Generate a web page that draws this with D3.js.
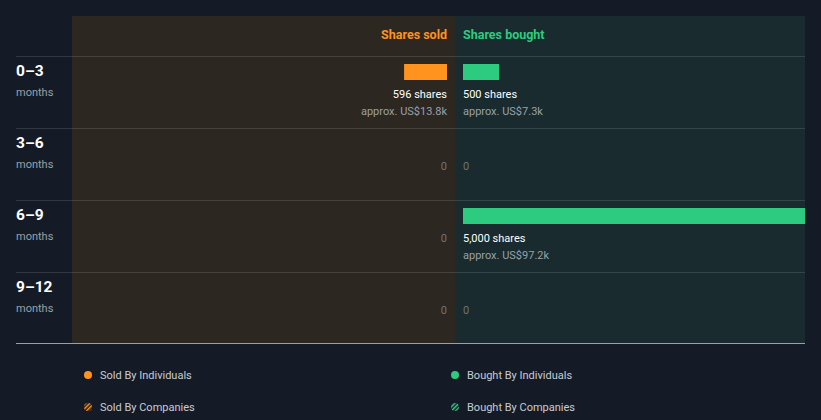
<!DOCTYPE html>
<html><head><meta charset="utf-8">
<script src="https://cdn.jsdelivr.net/npm/d3@7"></script>
<style>html,body{margin:0;padding:0;background:#151b26;}svg{display:block;font-family:Roboto,sans-serif;}</style>
</head><body><svg id="c" width="821" height="420"></svg>
<script>
const periods = ["0–3", "3–6", "6–9", "9–12"];
const periodUnit = "months";
const soldShares = [596, 0, 0, 0];
const soldValue = ["US$13.8k", null, null, null];
const boughtShares = [500, 0, 5000, 0];
const boughtValue = ["US$7.3k", null, "US$97.2k", null];
const legendItems = ["Sold By Individuals", "Bought By Individuals", "Sold By Companies", "Bought By Companies"];

(function () {
const orange = "#ff931e", green = "#2dcb80";
const svg = d3.select("#c");
const pLeft = 72, pMid = 455, pRight = 805, pTop = 16, headH = 40, pBottom = 344;
const y = d3.scaleBand().domain(periods).range([pTop + headH, pBottom]);
const x = d3.scaleLinear().domain([0, 5000]).range([0, 360]);
const fmt = d3.format(",");

const defs = svg.append("defs");
defs.append("clipPath").attr("id", "cs").append("rect").attr("x", pLeft).attr("y", pTop).attr("width", pMid - pLeft).attr("height", pBottom - pTop);
defs.append("clipPath").attr("id", "cb").append("rect").attr("x", pMid).attr("y", pTop).attr("width", pRight - pMid).attr("height", pBottom - pTop);
[["ho", orange], ["hg", green]].forEach(([id, c]) => {
  const p = defs.append("pattern").attr("id", id).attr("patternUnits", "userSpaceOnUse").attr("width", 3).attr("height", 3).attr("patternTransform", "rotate(45)");
  p.append("rect").attr("width", 1.5).attr("height", 3).attr("fill", c);
});

svg.append("rect").attr("x", pLeft).attr("y", pTop).attr("width", pMid - pLeft).attr("height", pBottom - pTop).attr("fill", "#2d2721");
svg.append("rect").attr("x", pMid).attr("y", pTop).attr("width", pRight - pMid).attr("height", pBottom - pTop).attr("fill", "#192b2e");

periods.forEach(p => {
  svg.append("line").attr("x1", 16).attr("x2", pRight).attr("y1", y(p) + 0.5).attr("y2", y(p) + 0.5).attr("stroke", "#ffffff").attr("stroke-opacity", 0.12);
});
svg.append("line").attr("x1", 16).attr("x2", pRight).attr("y1", pBottom - 0.5).attr("y2", pBottom - 0.5).attr("stroke", "#9aa0a8").attr("stroke-width", 1);

svg.append("text").attr("x", pMid - 8).attr("y", 39).attr("text-anchor", "end").attr("fill", orange).attr("font-size", 12.5).attr("font-weight", 700).text("Shares sold");
svg.append("text").attr("x", pMid + 8).attr("y", 39).attr("text-anchor", "start").attr("fill", green).attr("font-size", 12.5).attr("font-weight", 700).text("Shares bought");

periods.forEach(p => {
  svg.append("text").attr("x", 16).attr("y", y(p) + 20).attr("fill", "#fff").attr("font-size", 15.5).attr("font-weight", 700).text(p);
  svg.append("text").attr("x", 16).attr("y", y(p) + 40).attr("fill", "#9aa0a8").attr("font-size", 11).text(periodUnit);
});

const gs = svg.append("g").attr("clip-path", "url(#cs)");
const gb = svg.append("g").attr("clip-path", "url(#cb)");

function drawSide(g, shares, values, sign, color) {
  const x0 = sign < 0 ? pMid - 8 : pMid + 8;
  const anchor = sign < 0 ? "end" : "start";
  shares.forEach((v, i) => {
    const y0 = y(periods[i]);
    if (v > 0) {
      const w = x(v);
      g.append("rect").attr("x", sign < 0 ? x0 - w : x0).attr("y", y0 + 8).attr("width", w).attr("height", 16).attr("fill", color);
      g.append("text").attr("x", x0).attr("y", y0 + 42).attr("text-anchor", anchor).attr("fill", "#fff").attr("font-size", 11).attr("font-weight", 400).text(fmt(v) + " shares");
      g.append("text").attr("x", x0).attr("y", y0 + 59).attr("text-anchor", anchor).attr("fill", "#9aa0a8").attr("font-size", 11).text("approx. " + values[i]);
    } else {
      g.append("text").attr("x", x0).attr("y", y0 + 42).attr("text-anchor", anchor).attr("fill", "#6f747b").attr("font-size", 11).text("0");
    }
  });
}
drawSide(gs, soldShares, soldValue, -1, orange);
drawSide(gb, boughtShares, boughtValue, 1, green);

const lpos = [[88, 375], [455, 375], [88, 407], [455, 407]];
const lfill = [orange, green, "url(#ho)", "url(#hg)"];
legendItems.forEach((t, i) => {
  const [lx, ly] = lpos[i];
  svg.append("circle").attr("cx", lx).attr("cy", ly).attr("r", 4).attr("fill", lfill[i]);
  svg.append("text").attr("x", lx + 12).attr("y", ly + 4).attr("fill", "#c8ccd2").attr("font-size", 11).text(t);
});
})();
</script></body></html>
